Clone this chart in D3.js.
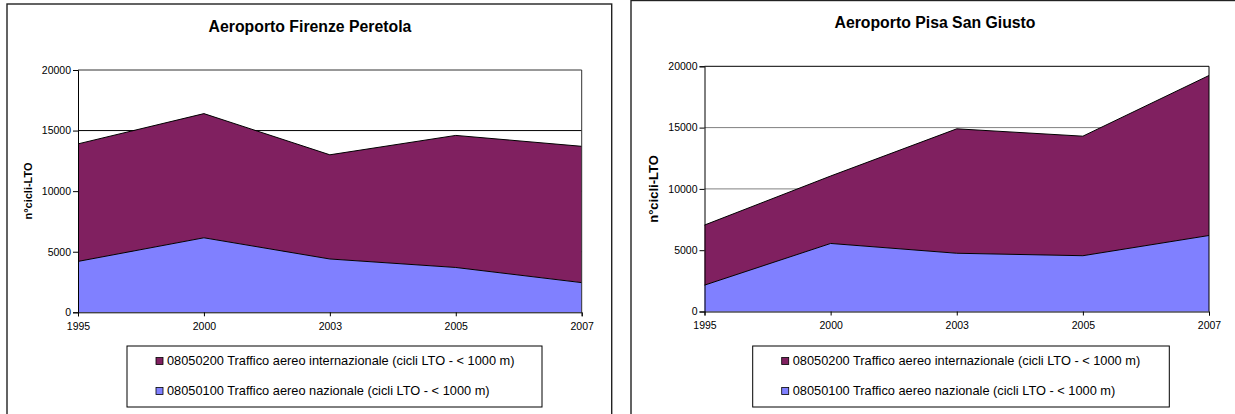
<!DOCTYPE html>
<html>
<head>
<meta charset="utf-8">
<script src="https://cdn.jsdelivr.net/npm/d3@7"></script>
<style>
  html, body { margin: 0; padding: 0; background: #fff; }
  svg { display: block; font-family: "Liberation Sans", Arial, sans-serif; }
</style>
</head>
<body>
<svg id="chart" width="1235" height="414"></svg>
<script>
// ---- data ----
const years = ["1995", "2000", "2003", "2005", "2007"];
const firenzeNazionale = [4200, 6150, 4400, 3700, 2450];
const firenzeInternazionale = [9700, 10250, 8600, 10900, 11250];
const pisaNazionale = [2150, 5550, 4750, 4550, 6200];
const pisaInternazionale = [4900, 5500, 10150, 9750, 13050];
const yTicks = [0, 5000, 10000, 15000, 20000];
const seriesKeys = ["nazionale", "internazionale"];
const seriesNames = [
  "08050200 Traffico aereo internazionale (cicli LTO - < 1000 m)",
  "08050100 Traffico aereo nazionale (cicli LTO - < 1000 m)"
];
const chartTitles = ["Aeroporto Firenze Peretola", "Aeroporto Pisa San Giusto"];
const yAxisTitle = "n°cicli-LTO";

const colors = { nazionale: "#8080FF", internazionale: "#802060" };

const svg = d3.select("#chart");

const layouts = [
  { frame: [7, 4, 604.7, 430], plot: [78, 70, 581.7, 312.3], titleX: 310, titleY: 32,
    ylabX: 31.5, ylabY: 191, ylabSize: 11, grid: "#000", plotBorder: "#333",
    legend: [127, 346, 542, 407], nat: firenzeNazionale, intl: firenzeInternazionale, title: chartTitles[0] },
  { frame: [631, 0.5, 700, 500], plot: [704.5, 66.3, 1209, 311.5], titleX: 935, titleY: 27.5,
    ylabX: 658, ylabY: 189, ylabSize: 13, grid: "#808080", plotBorder: "#000",
    legend: [752.7, 346, 1169.3, 407], nat: pisaNazionale, intl: pisaInternazionale, title: chartTitles[1] }
];

layouts.forEach(L => {
  const g = svg.append("g");
  // frame
  g.append("rect")
    .attr("x", L.frame[0]).attr("y", L.frame[1])
    .attr("width", L.frame[2]).attr("height", L.frame[3])
    .attr("fill", "#fff").attr("stroke", "#222").attr("stroke-width", 1.4);

  // title
  g.append("text").attr("x", L.titleX).attr("y", L.titleY)
    .attr("text-anchor", "middle").attr("font-weight", "bold")
    .attr("font-size", "15.8px").attr("fill", "#000").text(L.title);

  const [x0, y0, x1, y1] = L.plot;
  const x = d3.scalePoint().domain(years).range([x0, x1]).padding(0);
  const y = d3.scaleLinear().domain([0, 20000]).range([y1, y0]);

  // gridlines
  g.append("g").selectAll("line").data(yTicks.filter(t => t > 0 && t < 20000)).join("line")
    .attr("x1", x0).attr("x2", x1)
    .attr("y1", d => y(d)).attr("y2", d => y(d))
    .attr("stroke", L.grid).attr("stroke-width", 1);

  // stacked data
  const rows = years.map((yr, i) => ({ year: yr, nazionale: L.nat[i], internazionale: L.intl[i] }));
  const stacked = d3.stack().keys(seriesKeys)(rows);

  const area = d3.area()
    .x(d => x(d.data.year))
    .y0(d => y(d[0]))
    .y1(d => y(d[1]));
  const topLine = d3.line()
    .x(d => x(d.data.year))
    .y(d => y(d[1]));

  g.append("g").selectAll("path").data(stacked).join("path")
    .attr("d", area)
    .attr("fill", d => colors[d.key]);
  g.append("g").selectAll("path").data(stacked).join("path")
    .attr("d", topLine)
    .attr("fill", "none").attr("stroke", "#000").attr("stroke-width", 1);

  // plot border (top & right)
  g.append("path")
    .attr("d", `M${x0},${y0}H${x1}V${y1}`)
    .attr("fill", "none").attr("stroke", L.plotBorder).attr("stroke-width", 1);

  // axes
  const yAxis = d3.axisLeft(y).tickValues(yTicks).tickSize(5).tickPadding(2).tickFormat(d3.format("d"));
  const ya = g.append("g").attr("transform", `translate(${x0},0)`).call(yAxis);
  ya.select(".domain").attr("stroke", "#000");
  ya.selectAll(".tick line").attr("stroke", "#000");
  ya.selectAll("text").attr("font-size", "10.5px").attr("fill", "#000")
    .attr("font-family", "'Liberation Sans', Arial, sans-serif");

  const xAxis = d3.axisBottom(x).tickSize(4).tickPadding(6);
  const xa = g.append("g").attr("transform", `translate(0,${y1})`).call(xAxis);
  xa.select(".domain").attr("stroke", "#000");
  xa.selectAll(".tick line").attr("stroke", "#000");
  xa.selectAll("text").attr("font-size", "10.5px").attr("fill", "#000")
    .attr("font-family", "'Liberation Sans', Arial, sans-serif");

  // y-axis title
  g.append("text")
    .attr("transform", `translate(${L.ylabX},${L.ylabY}) rotate(-90)`)
    .attr("text-anchor", "middle").attr("font-weight", "bold")
    .attr("font-size", L.ylabSize + "px").attr("fill", "#000").text(yAxisTitle);

  // legend
  const [lx0, ly0, lx1, ly1] = L.legend;
  g.append("rect").attr("x", lx0).attr("y", ly0)
    .attr("width", lx1 - lx0).attr("height", ly1 - ly0)
    .attr("fill", "#fff").attr("stroke", "#000").attr("stroke-width", 1);
  const legendKeys = ["internazionale", "nazionale"];
  const rowY = [ly0 + 15, ly0 + 45];
  legendKeys.forEach((k, i) => {
    g.append("rect").attr("x", lx0 + 29).attr("y", rowY[i] - 3.5)
      .attr("width", 7).attr("height", 7)
      .attr("fill", colors[k]).attr("stroke", "#000").attr("stroke-width", 0.8);
    g.append("text").attr("x", lx0 + 40).attr("y", rowY[i]).attr("dy", "0.35em")
      .attr("font-size", "12.8px").attr("fill", "#000").text(seriesNames[i]);
  });
});
</script>
</body>
</html>
